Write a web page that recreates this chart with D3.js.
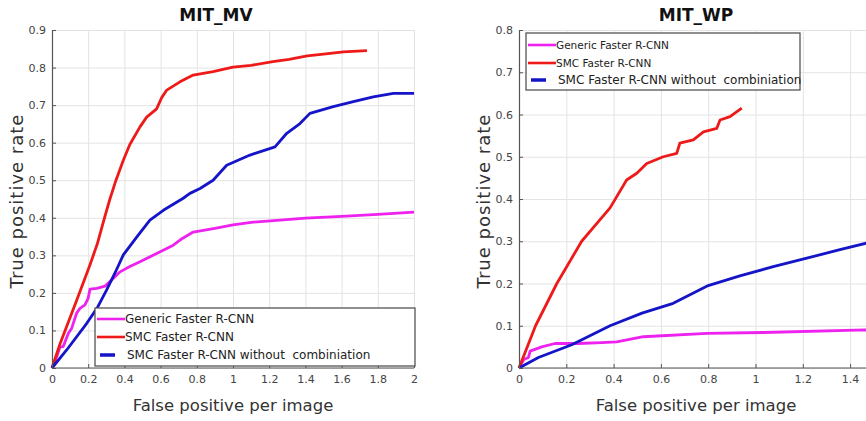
<!DOCTYPE html>
<html>
<head>
<meta charset="utf-8">
<script src="https://cdn.jsdelivr.net/npm/d3@7"></script>
<style>
  body { margin: 0; background: #fff; }
  svg { display: block; font-family: 'DejaVu Sans', sans-serif; }
  .legend text { white-space: pre; }
</style>
</head>
<body>
<svg id="chart" width="866" height="421"></svg>
<script>
// MIT_MV curves: [false positives per image, true positive rate]
const mvGeneric = [[0,0],[0.026,0.03],[0.044,0.056],[0.062,0.057],[0.09,0.092],[0.109,0.106],[0.136,0.146],[0.155,0.159],[0.182,0.168],[0.2,0.186],[0.21,0.21],[0.247,0.212],[0.293,0.218],[0.32,0.23],[0.376,0.256],[0.43,0.27],[0.486,0.283],[0.578,0.305],[0.67,0.327],[0.72,0.345],[0.78,0.362],[0.9,0.372],[1.0,0.381],[1.1,0.388],[1.19,0.391],[1.4,0.399],[1.6,0.404],[1.8,0.409],[2.0,0.415]];
const mvSMC = [[0,0],[0.044,0.064],[0.136,0.18],[0.21,0.275],[0.25,0.33],[0.29,0.4],[0.32,0.45],[0.35,0.495],[0.394,0.553],[0.43,0.595],[0.486,0.642],[0.523,0.668],[0.578,0.69],[0.606,0.72],[0.634,0.74],[0.707,0.762],[0.78,0.78],[0.89,0.789],[1.0,0.801],[1.1,0.806],[1.22,0.816],[1.31,0.822],[1.41,0.831],[1.5,0.836],[1.61,0.842],[1.74,0.845]];
const mvSMCnc = [[0,0],[0.081,0.048],[0.192,0.119],[0.25,0.16],[0.302,0.208],[0.35,0.255],[0.394,0.301],[0.47,0.35],[0.541,0.394],[0.615,0.42],[0.725,0.452],[0.762,0.465],[0.818,0.478],[0.89,0.5],[0.965,0.54],[1.094,0.567],[1.232,0.589],[1.297,0.625],[1.37,0.651],[1.425,0.678],[1.554,0.696],[1.665,0.709],[1.775,0.722],[1.886,0.731],[2.0,0.731]];

// MIT_WP curves
const wpGeneric = [[0,0],[0.02,0.02],[0.04,0.025],[0.047,0.04],[0.096,0.05],[0.152,0.058],[0.25,0.058],[0.35,0.06],[0.413,0.062],[0.526,0.074],[0.794,0.082],[1.033,0.084],[1.467,0.09],[1.5,0.09]];
const wpSMC = [[0,0],[0.07,0.1],[0.16,0.2],[0.265,0.3],[0.385,0.379],[0.455,0.445],[0.498,0.461],[0.54,0.484],[0.61,0.5],[0.667,0.508],[0.68,0.532],[0.737,0.54],[0.78,0.559],[0.836,0.567],[0.85,0.587],[0.892,0.595],[0.942,0.615]];
const wpSMCnc = [[0,0],[0.082,0.025],[0.223,0.055],[0.385,0.1],[0.52,0.13],[0.652,0.153],[0.8,0.195],[0.934,0.218],[1.075,0.24],[1.217,0.26],[1.357,0.28],[1.5,0.3]];

const seriesNames = ['Generic Faster R-CNN', 'SMC Faster R-CNN', 'SMC Faster R-CNN without  combiniation'];
const seriesColors = ['#ee22ee', '#ee1a1a', '#1414c8'];
const xTicks = [0, 0.2, 0.4, 0.6, 0.8, 1, 1.2, 1.4, 1.6, 1.8, 2];
const mvYTicks = [0, 0.1, 0.2, 0.3, 0.4, 0.5, 0.6, 0.7, 0.8, 0.9];
const wpYTicks = [0, 0.1, 0.2, 0.3, 0.4, 0.5, 0.6, 0.7, 0.8];

const svg = d3.select('#chart');
const W = +svg.attr('width');

const fmt = (d) => (d === 0 ? '0' : String(d));

const drawPanel = (cfg) => {
  const g = svg.append('g');
  const x = d3.scaleLinear().domain([0, 2]).range([cfg.left, cfg.right]);
  const y = d3.scaleLinear().domain([0, cfg.ymax]).range([cfg.bottom, cfg.top]);
  // only label the ticks that fit inside the page
  const shownX = xTicks.filter((t) => x(t) + 10 < W);

  // grid
  g.append('g')
    .attr('transform', `translate(0,${cfg.bottom})`)
    .call(d3.axisBottom(x).tickValues(xTicks).tickSize(-(cfg.bottom - cfg.top)).tickFormat(''))
    .call((s) => s.select('.domain').remove())
    .selectAll('line').attr('stroke', '#e3e3e3');
  g.append('g')
    .attr('transform', `translate(${cfg.left},0)`)
    .call(d3.axisLeft(y).tickValues(cfg.yTicks).tickSize(-(cfg.right - cfg.left)).tickFormat(''))
    .call((s) => s.select('.domain').remove())
    .selectAll('line').attr('stroke', '#e3e3e3');

  // curves
  const line = d3.line().x((d) => x(d[0])).y((d) => y(d[1]));
  cfg.series.forEach((data, i) => {
    g.append('path')
      .datum(data)
      .attr('fill', 'none')
      .attr('stroke', seriesColors[i])
      .attr('stroke-width', 2.8)
      .attr('stroke-linejoin', 'round')
      .attr('d', line);
  });

  // axes, MATLAB-style inward ticks
  const xa = g.append('g')
    .attr('transform', `translate(0,${cfg.bottom})`)
    .call(d3.axisBottom(x).tickValues(shownX).tickFormat(fmt).tickSizeInner(-4).tickSizeOuter(0).tickPadding(7));
  xa.select('.domain').attr('d', `M${cfg.left},0H${cfg.right}`);
  const ya = g.append('g')
    .attr('transform', `translate(${cfg.left},0)`)
    .call(d3.axisLeft(y).tickValues(cfg.yTicks).tickFormat(fmt).tickSizeInner(-4).tickSizeOuter(0).tickPadding(6));
  [xa, ya].forEach((a) => {
    a.select('.domain').attr('stroke', '#555').attr('stroke-width', 1.2);
    a.selectAll('.tick line').attr('stroke', '#555');
    a.selectAll('.tick text')
      .attr('fill', '#444')
      .style('font-family', "'DejaVu Sans', sans-serif")
      .style('font-size', '11px');
  });

  // title & labels
  g.append('text')
    .attr('x', cfg.titleX).attr('y', 21)
    .attr('text-anchor', 'middle')
    .style('font-weight', 'bold').style('font-size', '17px')
    .attr('fill', '#111')
    .text(cfg.title);
  g.append('text')
    .attr('x', cfg.xLabelX).attr('y', 411)
    .attr('text-anchor', 'middle')
    .style('font-size', '16.5px')
    .attr('fill', '#333')
    .text('False positive per image');
  g.append('text')
    .attr('transform', `translate(${cfg.yLabelX},201) rotate(-90)`)
    .attr('text-anchor', 'middle')
    .style('font-size', '18px')
    .style('letter-spacing', '1px')
    .attr('fill', '#333')
    .text('True positive rate');

  // legend
  const lg = g.append('g').attr('class', 'legend');
  const L = cfg.legend;
  lg.append('rect')
    .attr('x', L.x).attr('y', L.y).attr('width', L.w).attr('height', L.h)
    .attr('fill', '#fff').attr('stroke', '#555').attr('stroke-width', 1.3);
  seriesNames.forEach((name, i) => {
    const ry = L.y + L.rows[i];
    const blue = i === 2;
    lg.append('line')
      .attr('x1', L.x + (blue ? 5 : 2)).attr('x2', L.x + (blue ? 20 : 30))
      .attr('y1', ry).attr('y2', ry)
      .attr('stroke', seriesColors[i]).attr('stroke-width', blue ? 3.5 : 2.6);
    lg.append('text')
      .attr('x', L.x + (blue ? 32 : 30)).attr('y', ry + 4)
      .style('font-size', L.sizes[i] + 'px')
      .attr('fill', '#222')
      .text(name);
  });
};

drawPanel({
  title: 'MIT_MV', titleX: 216, xLabelX: 233, yLabelX: 23,
  left: 52, right: 414, top: 30, bottom: 368, ymax: 0.9, yTicks: mvYTicks,
  series: [mvGeneric, mvSMC, mvSMCnc],
  legend: { x: 95, y: 308, w: 320, h: 58, rows: [11, 29, 47], sizes: [12, 12, 12] },
});

drawPanel({
  title: 'MIT_WP', titleX: 696, xLabelX: 696, yLabelX: 490,
  left: 519, right: 992, top: 30, bottom: 368, ymax: 0.8, yTicks: wpYTicks,
  series: [wpGeneric, wpSMC, wpSMCnc],
  legend: { x: 526, y: 33, w: 274, h: 57, rows: [12, 30, 47], sizes: [10.5, 10.5, 12] },
});
</script>
</body>
</html>
